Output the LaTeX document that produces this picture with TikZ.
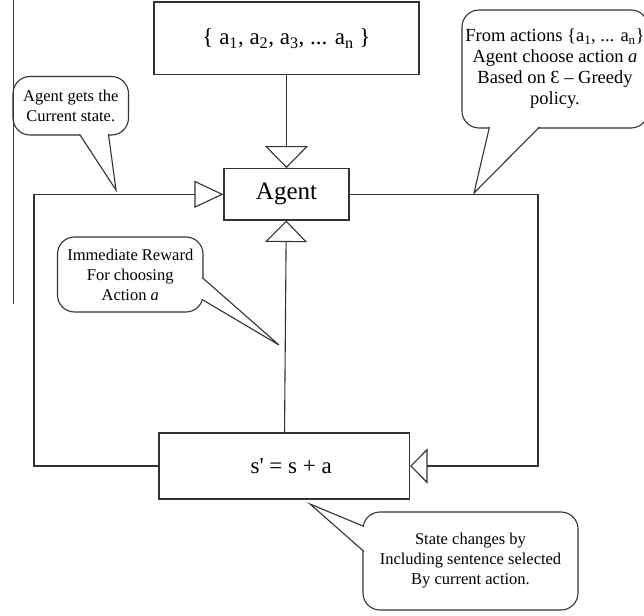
\documentclass[tikz,border=0pt]{standalone}
\usepackage{fontspec}
\setmainfont{Liberation Serif}
\usetikzlibrary{arrows.meta, positioning, calc}

\begin{document}
\begin{tikzpicture}[x=1pt, y=-1pt,
  line/.style={draw=black!80, line width=1.1pt},
  box/.style 2 args={line, minimum width=#1, minimum height=#2, inner sep=0pt, font=\fontsize{23}{27}\selectfont},
  bubble/.style 2 args={line, rounded corners=17pt, minimum width=#1, minimum height=#2, inner sep=0pt, align=center, font=\fontsize{16.5}{20}\selectfont},
  pointer/.style={line, fill=white, rounded corners=0pt}]
			\useasboundingbox (0,0) rectangle (644,615);
			\draw[line, line width=0.8pt] (13,0) -- (13,304);
			
			\node[box={265pt}{72.5pt}] (actions) at (286.5,38.3) {\{ a\textsubscript{1}, a\textsubscript{2}, a\textsubscript{3}, ... a\textsubscript{n} \}};
			\node[box={125pt}{51.4pt}, font=\fontsize{25}{30}\selectfont] (agent) at (286.5,194.3) {Agent};
			\node[box={250.5pt}{66pt}] (state) at (284.25,466) {\hspace{14pt}s\textquotesingle{} = s + a};
			\coordinate (loopL) at (34,466);
			\coordinate (loopR) at (538,466);
			
			\draw[line, -{Triangle[open, length=22pt, width=43pt]}] (actions) -- (agent);
			\draw[line, -{Triangle[open, length=21.5pt, width=42pt]}] (state) -- (agent);
			\draw[line, -{Triangle[open, length=29pt, width=27pt]}] (state.west) -| (loopL) |- (agent.west);
			\draw[line, -{Triangle[open, length=17.5pt, width=35pt]}] (agent.east) -| (loopR) -- (state.east);
			
			\node[bubble={115.5pt}{58.5pt}] (getsnote) at (70.75,105.75) {Agent gets the\\Current state.};
			\node[bubble={186pt}{118pt}, font=\fontsize{18.5}{21}\selectfont] (choosenote) at (555,69) {From actions \{a\textsubscript{1}, ... a\textsubscript{n}\}\\Agent choose action \textit{a}\\Based on Ɛ -- Greedy\\policy.};
			\node[bubble={145.5pt}{75pt}] (rewardnote) at (130.25,274.5) {Immediate Reward\\For choosing\\Action \textit{a}};
			\node[bubble={215pt}{98pt}] (changenote) at (470.5,561) {State changes by\\Including sentence selected\\By current action.};
			\coordinate (getstip) at (116,190);
			\coordinate (choosetip) at (474,193);
			\coordinate (rewardtip) at (279,345);
			\coordinate (changetip) at (310,504);
			
			% pointers of the bubbles
			\draw[pointer] ($(getsnote.south west)+(67,-1.5)$) -- (getstip) -- ($(getsnote.south west)+(96,-1.5)$);
			\draw[pointer] ($(choosenote.south west)+(28,-1.5)$) -- (choosetip) -- ($(choosenote.south west)+(78,-1.5)$);
			\draw[pointer] ($(rewardnote.north east)+(-1.5,41)$) -- (rewardtip) -- ($(rewardnote.north east)+(-1.5,63)$);
			\draw[pointer] ($(changenote.north west)+(1.5,15)$) -- (changetip) -- ($(changenote.north west)+(1.5,40)$);
		\end{tikzpicture}
\end{document}
